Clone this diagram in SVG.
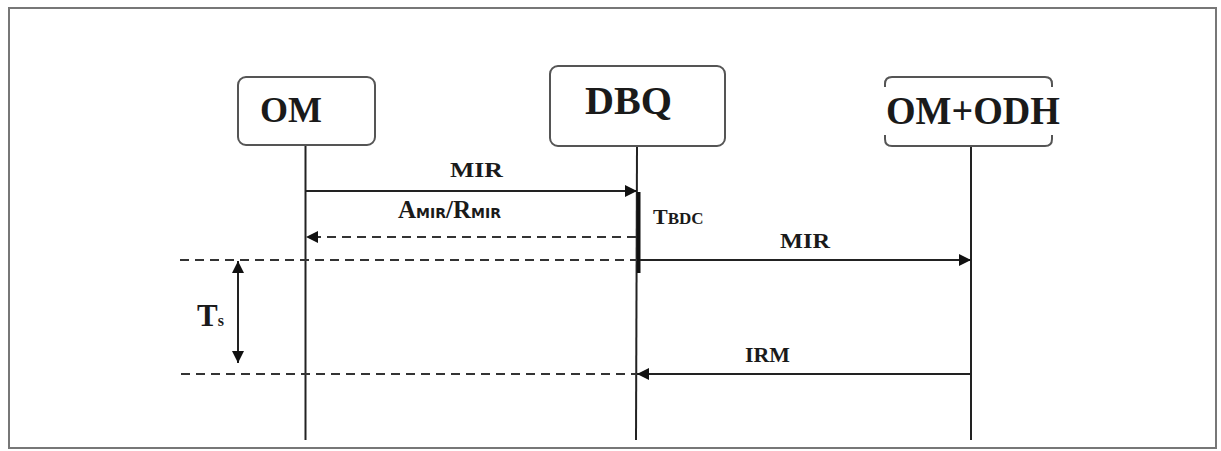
<svg xmlns="http://www.w3.org/2000/svg" width="1221" height="451" viewBox="0 0 1221 451">
<defs>
<style>
.box{fill:#fff;stroke:#555;stroke-width:2}
.life{stroke:#222;stroke-width:2;fill:none}
.msg{stroke:#222;stroke-width:2;fill:none}
.dash{stroke:#333;stroke-width:2;fill:none;stroke-dasharray:9 6}
text{font-family:'Liberation Serif','Times New Roman','DejaVu Serif',serif;font-weight:bold;fill:#1a1a1a}
.sub{font-family:'DejaVu Sans','Liberation Sans',sans-serif;font-weight:bold}
</style>
<marker id="ah" viewBox="0 0 10 10" refX="10" refY="5" markerWidth="13" markerHeight="12" markerUnits="userSpaceOnUse" orient="auto">
<path d="M0,0 L10,5 L0,10 z" fill="#111"/>
</marker>
<marker id="ahs" viewBox="0 0 10 10" refX="10" refY="5" markerWidth="13" markerHeight="12" markerUnits="userSpaceOnUse" orient="auto-start-reverse">
<path d="M0,0 L10,5 L0,10 z" fill="#111"/>
</marker>
</defs>
<rect x="0" y="0" width="1221" height="451" fill="#fff"/>
<rect x="9" y="8" width="1207" height="440" fill="#fff" stroke="#777" stroke-width="2"/>

<g id="connectors">
<line class="life" x1="305.5" y1="145" x2="305.5" y2="440"/>
<line class="life" x1="637" y1="146" x2="636" y2="440"/>
<line class="life" x1="971" y1="146" x2="971" y2="440"/>
<rect x="637" y="192" width="3.5" height="81" fill="#111"/>
<line class="msg" x1="305.5" y1="191" x2="637" y2="191" marker-end="url(#ah)"/>
<line class="dash" x1="636" y1="237" x2="306" y2="237" marker-end="url(#ah)"/>
<line class="dash" x1="180" y1="260" x2="637" y2="260"/>
<line class="msg" x1="640" y1="260" x2="971" y2="260" marker-end="url(#ah)"/>
<line class="dash" x1="181" y1="374" x2="637" y2="374"/>
<line class="msg" x1="971" y1="374" x2="637" y2="374" marker-end="url(#ah)"/>
<line class="msg" x1="238" y1="261" x2="238" y2="363" marker-start="url(#ahs)" marker-end="url(#ahs)"/>
</g>

<g id="node-om">
<rect class="box" x="238" y="77" width="137" height="68" rx="8"/>
<text x="260" y="122" font-size="36" textLength="62" lengthAdjust="spacingAndGlyphs">OM</text>
</g>
<g id="node-dbq">
<rect class="box" x="550" y="66" width="175" height="80" rx="8"/>
<text x="585" y="114" font-size="39" textLength="87" lengthAdjust="spacingAndGlyphs">DBQ</text>
</g>
<g id="node-omodh">
<path d="M885,87 L885,84 Q885,77 892,77 L1045,77 Q1052,77 1052,84 L1052,87 M885,135 L885,139 Q885,146 892,146 L1045,146 Q1052,146 1052,139 L1052,135" fill="none" stroke="#555" stroke-width="2"/>
<text x="886" y="124" font-size="39" textLength="174" lengthAdjust="spacingAndGlyphs">OM+ODH</text>
</g>

<g id="labels">
<text x="450" y="177" font-size="21" textLength="53" lengthAdjust="spacingAndGlyphs">MIR</text>
<text x="398" y="218"><tspan font-size="25">A</tspan><tspan class="sub" font-size="14">MIR</tspan><tspan font-size="25">/R</tspan><tspan class="sub" font-size="14">MIR</tspan></text>
<text x="653" y="224"><tspan font-size="22">T</tspan><tspan font-size="17">BDC</tspan></text>
<text x="780" y="248" font-size="21" textLength="50" lengthAdjust="spacingAndGlyphs">MIR</text>
<text x="745" y="362" font-size="21" textLength="45" lengthAdjust="spacingAndGlyphs">IRM</text>
<text x="197" y="326"><tspan font-size="31">T</tspan><tspan font-size="16">s</tspan></text>
</g>
</svg>
